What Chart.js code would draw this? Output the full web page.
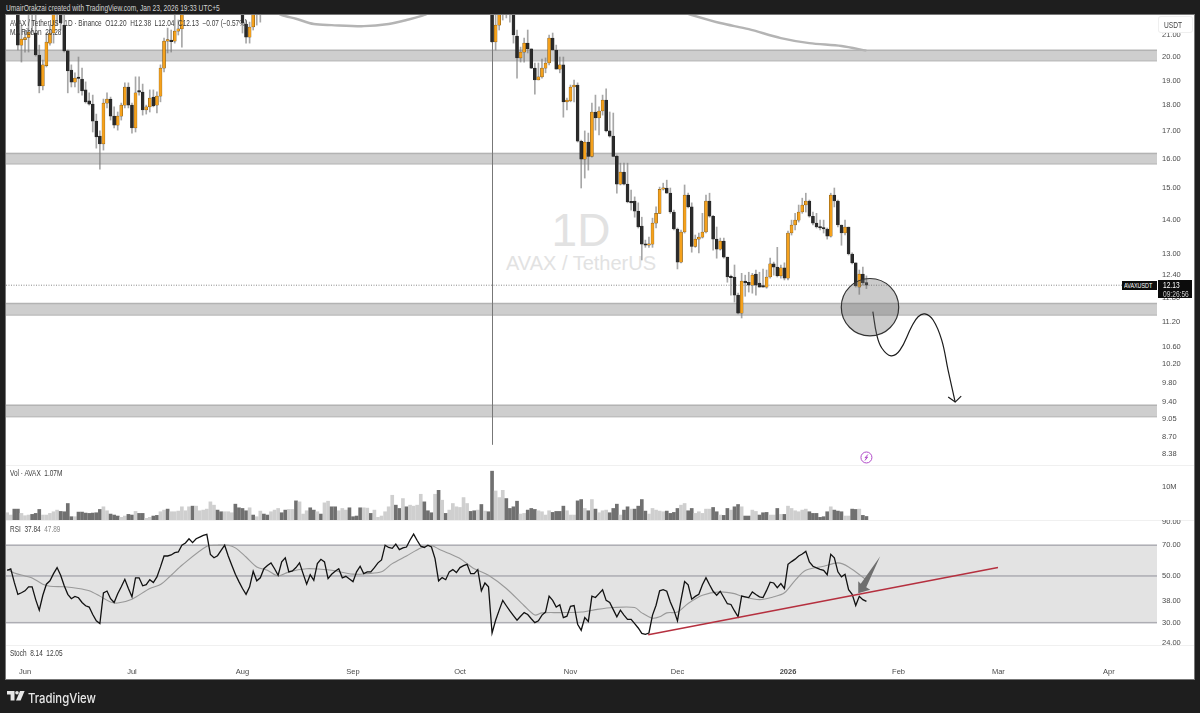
<!DOCTYPE html>
<html>
<head>
<meta charset="utf-8">
<title>AVAX / TetherUS</title>
<script src="https://cdn.jsdelivr.net/npm/chart.js@4/dist/chart.umd.min.js"></script>
<style>
  html, body { margin: 0; padding: 0; width: 1200px; height: 713px; overflow: hidden; background: #1e1e1e; }
  body { position: relative; font-family: "Liberation Sans", sans-serif; }
  canvas { position: absolute; left: 6px; }
  .abs { position: absolute; white-space: nowrap; line-height: 1; }
  .narrow { transform: scaleX(0.78); transform-origin: left center; }
  #sheet { position: absolute; left: 6px; top: 15px; width: 1188px; height: 664px; background: #fff; box-shadow: 0 0 0 1px #777; }
  .sep { position: absolute; left: 6px; width: 1188px; height: 1px; background: #f0f0f0; }
  .leg { font-size: 8.3px; color: #3a3a3a; }
</style>
</head>
<body>
<div id="sheet"></div>
<div class="sep" style="top:465px"></div>
<div class="sep" style="top:520px"></div>
<div class="sep" style="top:645px"></div>
<div class="abs" style="left:506px;top:203px;width:150px;text-align:center;font:46px 'Liberation Sans',sans-serif;color:#e2e2e2">1D</div>
<div class="abs" style="left:481px;top:252px;width:200px;text-align:center;font:20px 'Liberation Sans',sans-serif;color:#e2e2e2">AVAX / TetherUS</div>
<canvas id="priceChart" width="1188" height="450" style="top:15px"></canvas>
<canvas id="volChart" width="1188" height="55" style="top:465px"></canvas>
<canvas id="rsiChart" width="1188" height="159" style="top:520px"></canvas>

<div class="abs narrow" style="left:6px;top:4px;font-size:8.5px;color:#d4d4d4">UmairOrakzai created with TradingView.com, Jan 23, 2026 19:33 UTC+5</div>
<div class="abs leg narrow" style="left:10px;top:19px">AVAX / TetherUS · 1D · Binance &nbsp;O12.20 &nbsp;H12.38 &nbsp;L12.04 &nbsp;C12.13 &nbsp;−0.07 (−0.57%)</div>
<div class="abs leg narrow" style="left:10px;top:28px">MA Ribbon &nbsp;20.28</div>
<div class="abs leg narrow" style="left:10px;top:469px">Vol · AVAX &nbsp;1.07M</div>
<div class="abs leg narrow" style="left:10px;top:525px">RSI &nbsp;37.84 &nbsp;<span style="color:#888">47.89</span></div>
<div class="abs leg narrow" style="left:10px;top:649px">Stoch &nbsp;8.14 &nbsp;12.05</div>

<div class="abs" style="left:1159px;top:17px;width:33px;height:15px;background:#fff;border-radius:2px;box-shadow:0 0 0 1px #efefef"></div>
<div class="abs narrow" style="left:1164px;top:21px;font-size:8.5px;color:#444">USDT</div>
<div class="abs" style="left:1122px;top:281px;width:35px;height:9px;background:#0c0c0c"></div>
<div class="abs" style="left:1124px;top:282px;color:#fff;font-size:7.5px;transform:scaleX(0.72);transform-origin:left center">AVAXUSDT</div>
<div class="abs" style="left:1158px;top:280px;width:34px;height:18px;background:#0c0c0c"></div>
<div class="abs narrow" style="left:1163px;top:281px;color:#fff;font-size:8.5px;line-height:8.5px">12.13<br><span style="color:#ccc">09:26:56</span></div>

<svg class="abs" style="left:7px;top:691px" width="18" height="11" viewBox="0 0 18 11">
  <path fill="#e8e8e8" d="M0 0h7.5v9.5H3.6V3.4H0z"/><circle fill="#e8e8e8" cx="10" cy="1.8" r="1.8"/><path fill="#e8e8e8" d="M13 0h4.6l-4 9.5H9z"/>
</svg>
<div class="abs" style="left:28px;top:690px;font:500 13px Inter,sans-serif;color:#e8e8e8;transform:scaleX(0.87);transform-origin:left center">TradingView</div>

<script>
// days are counted from 1 Jun 2025, first candle is day -5
const firstDay = -5;

const opens = [
  null,null,null,22.3,20.53,20.78,20.88,22.2,21.08,20.09,
  18.77,19.62,20.62,21.08,22.1,22.5,21.45,20.27,19.44,18.93,
  19.12,19.06,18.61,18.17,18.04,17.38,16.82,16.53,18.08,18.24,
  17.57,17.23,17.57,18.00,18.73,18.00,17.12,18.55,18.52,17.81,
  17.93,18.32,18.00,18.36,19.52,20.71,20.71,20.71,21.17,21.27,
  null,null,null,null,null,null,null,null,null,null,
  null,null,null,null,null,null,22.6,21.50,20.89,21.36,
  22.3,22.4,null,null,null,null,null,null,null,null,
  null,null,null,null,null,null,null,null,null,null,
  null,null,null,null,null,null,null,null,null,null,
  null,null,null,null,null,null,null,null,null,null,
  null,null,null,null,null,null,null,null,null,null,
  null,null,null,null,null,null,null,null,null,null,
  null,null,null,null,null,null,23.0,20.67,21.45,22.2,
  22.2,22.3,22.1,20.94,19.96,20.22,20.62,20.36,19.52,19.02,
  19.15,19.52,19.74,20.85,20.31,19.48,19.66,18.13,18.17,18.73,
  18.81,16.63,15.99,16.60,16.09,17.73,17.50,17.77,18.20,17.01,
  16.82,16.09,15.14,15.54,15.14,14.56,14.59,14.27,13.81,13.27,
  13.24,13.27,13.90,14.20,14.97,15.01,14.84,14.24,13.72,12.76,
  13.63,14.78,14.40,13.21,13.42,13.48,13.63,14.59,14.11,13.42,
  13.13,13.36,12.90,12.35,12.35,11.87,11.41,12.24,12.21,12.13,
  12.43,12.19,12.11,12.08,12.35,12.71,12.62,12.38,12.60,12.32,
  13.60,13.84,13.99,14.24,14.46,14.59,14.11,13.90,13.78,13.75,
  13.72,13.51,14.78,14.59,13.84,13.60,13.78,12.99,12.74,12.08,
  12.43,12.20
];
const highs = [
  null,null,null,22.6,21.45,21.22,22.1,22.7,22.1,20.53,
  19.87,21.08,21.45,22.3,22.6,22.7,22.0,20.31,19.66,19.32,
  20.00,19.52,18.94,18.49,18.40,17.65,17.01,18.24,18.49,18.32,
  17.93,17.73,18.08,18.90,18.90,18.08,19.15,19.15,18.85,18.00,
  18.61,18.61,18.53,19.66,20.85,21.31,21.22,22.0,21.69,22.5,
  null,null,null,null,null,null,null,null,null,null,
  null,null,null,null,null,null,22.8,21.69,21.59,22.4,
  22.7,22.8,null,null,null,null,null,null,null,null,
  null,null,null,null,null,null,null,null,null,null,
  null,null,null,null,null,null,null,null,null,null,
  null,null,null,null,null,null,null,null,null,null,
  null,null,null,null,null,null,null,null,null,null,
  null,null,null,null,null,null,null,null,null,null,
  null,null,null,null,null,null,23.2,22.0,22.4,22.6,
  22.7,22.6,22.3,21.22,20.44,20.85,21.22,20.36,19.74,19.74,
  19.91,19.96,20.99,21.08,20.53,20.00,20.00,18.28,18.81,19.02,
  18.90,16.67,17.01,16.93,18.08,18.40,17.93,18.40,18.65,17.73,
  17.69,16.13,15.85,15.85,15.85,14.94,14.72,14.53,14.08,13.39,
  13.48,14.05,14.40,15.04,15.17,15.27,15.01,14.30,13.75,13.69,
  15.11,14.84,14.53,13.54,13.60,14.20,14.78,14.84,14.14,13.78,
  13.45,13.45,12.90,12.40,12.68,11.92,12.45,12.40,12.48,12.45,
  12.54,12.48,12.57,12.54,12.87,12.76,13.18,12.68,12.74,13.66,
  13.99,14.20,14.46,14.68,14.84,14.62,14.24,14.20,13.99,13.99,
  13.75,14.84,15.01,14.62,13.84,13.99,13.78,13.02,12.74,12.54,
  12.62,12.38
];
const lows = [
  null,null,null,20.31,19.78,20.22,20.22,21.12,20.04,18.49,
  18.61,19.57,20.53,20.62,21.45,21.22,20.22,18.49,18.73,18.73,
  18.49,18.40,18.08,18.00,16.97,16.38,15.64,16.31,17.89,17.42,
  17.12,17.04,17.42,17.89,17.89,16.93,16.97,18.40,17.61,17.65,
  17.73,17.93,17.69,18.13,19.36,20.18,20.22,20.62,20.99,20.44,
  null,null,null,null,null,null,null,null,null,null,
  null,null,null,null,null,null,21.08,20.62,20.62,21.22,
  21.45,21.59,null,null,null,null,null,null,null,null,
  null,null,null,null,null,null,null,null,null,null,
  null,null,null,null,null,null,null,null,null,null,
  null,null,null,null,null,null,null,null,null,null,
  null,null,null,null,null,null,null,null,null,null,
  null,null,null,null,null,null,null,null,null,null,
  null,null,null,null,null,null,20.65,20.31,21.22,21.69,
  21.79,21.59,20.62,19.10,19.78,19.78,20.18,19.50,18.44,19.02,
  19.10,19.32,19.66,20.31,19.48,19.32,17.53,17.81,18.13,18.13,
  16.60,15.01,15.34,15.61,16.06,17.04,16.86,17.61,16.97,16.78,
  16.09,14.84,15.11,15.11,14.53,14.30,14.08,13.75,12.82,13.18,
  13.18,13.18,13.75,14.20,14.94,14.84,14.20,13.69,12.57,12.74,
  13.60,14.37,13.04,13.18,13.02,13.45,13.60,14.08,13.10,12.87,
  13.10,12.87,12.21,11.87,11.69,11.39,11.29,11.84,11.95,11.92,
  11.87,12.08,12.08,12.05,12.32,12.40,12.35,12.32,12.27,12.27,
  13.54,13.69,13.93,14.20,14.24,14.08,13.84,13.75,13.69,13.60,
  13.42,13.48,14.40,13.78,13.24,13.54,12.96,12.71,12.08,11.89,
  12.13,12.04
];
const closes = [
  null,null,null,20.53,20.80,20.87,21.12,22.5,20.09,18.77,
  19.66,20.67,21.08,22.0,22.3,21.55,20.27,19.40,18.93,19.10,
  19.08,18.57,18.13,18.04,17.38,16.79,16.53,18.08,18.24,17.57,
  17.23,17.57,18.00,18.73,18.00,17.12,18.49,18.52,17.81,17.93,
  18.28,17.97,18.36,19.52,20.71,20.73,20.69,21.17,21.27,22.1,
  null,null,null,null,null,null,null,null,null,null,
  null,null,null,null,null,null,21.55,20.89,21.36,22.1,
  22.5,22.6,null,null,null,null,null,null,null,null,
  null,null,null,null,null,null,null,null,null,null,
  null,null,null,null,null,null,null,null,null,null,
  null,null,null,null,null,null,null,null,null,null,
  null,null,null,null,null,null,null,null,null,null,
  null,null,null,null,null,null,null,null,null,null,
  null,null,null,null,null,null,20.67,21.45,22.1,22.4,
  22.5,22.5,20.99,19.96,20.22,20.62,20.36,19.52,19.02,19.15,
  19.52,19.74,20.85,20.31,19.48,19.66,18.13,18.20,18.73,18.81,
  16.63,15.99,16.60,16.09,17.73,17.50,17.77,18.20,17.01,16.82,
  16.09,15.14,15.54,15.14,14.56,14.53,14.27,13.78,13.27,13.24,
  13.27,13.90,14.20,14.97,15.01,14.84,14.24,13.72,12.76,13.63,
  14.78,14.40,13.21,13.42,13.48,13.63,14.59,14.11,13.42,13.13,
  13.36,12.90,12.35,12.33,11.87,11.41,12.24,12.19,12.13,12.40,
  12.13,12.08,12.08,12.35,12.71,12.62,12.38,12.60,12.32,13.60,
  13.84,13.99,14.24,14.46,14.59,14.11,13.90,13.78,13.75,13.72,
  13.51,14.78,14.59,13.84,13.60,13.78,12.99,12.74,12.11,12.43,
  12.19,12.13
];

// volume in millions
const volumes = [
  2.2,1.5,3.3,3.3,2.0,1.3,1.5,1.7,2.0,3.2,
  1.5,1.5,2.0,2.5,3.0,2.6,2.5,5.0,1.0,1.0,
  2.4,2.4,2.1,2.0,2.1,2.2,3.2,4.0,2.8,1.8,
  1.5,1.2,0.8,1.2,1.7,1.5,2.6,2.0,2.0,0.5,
  0.8,1.2,1.4,2.5,3.0,3.3,2.5,2.5,2.7,4.0,
  2.8,4.0,4.2,4.2,2.8,3.0,3.3,5.5,4.5,3.0,
  2.5,2.5,2.5,2.2,4.8,3.7,3.5,2.8,3.7,1.5,
  1.0,2.7,1.8,1.5,2.5,3.0,3.5,2.2,3.0,3.2,
  3.2,5.8,5.5,1.8,2.8,3.7,3.0,2.5,1.8,5.2,
  5.7,4.0,4.0,2.8,3.5,3.0,3.7,1.0,1.2,3.7,
  3.7,3.6,2.0,3.0,0.8,1.2,2.5,4.0,7.5,4.5,
  3.5,6.5,4.0,4.5,4.2,4.5,7.8,5.5,2.8,2.2,
  7.8,9.0,6.0,2.0,3.0,5.0,4.0,3.8,6.8,5.0,
  2.6,2.8,3.0,4.7,2.7,2.5,14.8,8.8,6.8,9.0,
  6.5,3.5,4.0,5.7,1.8,2.0,3.0,3.5,3.2,2.8,
  2.5,1.5,2.8,2.3,2.6,2.6,4.2,2.8,1.5,1.5,
  5.8,6.2,3.5,2.8,6.2,3.3,2.2,2.8,3.0,2.2,
  3.5,4.8,1.5,3.0,4.0,3.3,3.3,4.2,6.2,2.7,
  1.8,3.5,3.0,2.7,2.5,2.7,2.0,2.3,3.5,4.5,
  5.0,2.8,3.5,2.0,2.5,2.0,3.3,3.3,3.8,2.5,
  1.5,1.4,3.5,3.0,4.0,4.7,4.0,1.2,1.2,3.0,
  2.6,1.5,2.2,2.3,1.5,1.5,3.5,1.7,1.7,4.2,
  3.5,2.8,2.5,3.0,3.3,2.5,2.0,2.0,0.8,1.0,
  2.5,4.0,3.0,2.7,2.5,1.2,1.2,3.3,3.2,3.3,
  1.4,1.07
];
// D = down day (dark bar), L = up day (light bar)
const volumeSides = [
  "LLDDLLLDDD","LLLLLDDDDL","DDDDDDDLLD","DDLLDDLDDL","LDDLLDLLLL",
  "LLDLLLLLLD","DLLLDDDDLD","LLDDLLLDDL","LDLLLDDLDL","LDDLLLDDDD",
  "LLDLLLLLLD","DLDLLLLDDD","LDLDLLLLLL","DDLDLDDLLL","DDDDLLDDDL",
  "LLLDDDDLLL","DDLDLDLLLD","DDLDDLDDDD","LLLLLDDDDL","LDDLLLLLDD",
  "LDDLDDLDDL","LDDDLLDLDL","LLLLLDDDDD","DLDDDLLDDL","DD"
];

const rsiValues = [
  53.2,54,46.6,40.9,41.6,42.5,44.4,44.4,38.6,34.4,
  40.5,45.7,47.4,51.3,54.8,50.4,44.9,40.9,39,40,
  39.4,37.4,36.1,35.6,32.8,30.6,29.7,41.5,42.4,39,
  37.4,41.2,44.4,48.2,43.6,39.8,49,49,44.9,45.5,
  48,46.5,49.5,55.2,62.2,62.2,62.9,64.5,65,70,
  71.7,75.1,72,75.1,76.5,77.9,78.8,63.2,61,62.4,
  66.1,70,62.2,56.2,50.9,47,43.6,40.9,44.4,52.6,
  47.4,49,54.1,56,57.7,54.1,50.4,58.3,61,52.3,
  52.8,54.8,57.7,51.3,45.7,50.7,47.7,57.2,60,58.3,
  48.6,50.9,52.6,54.1,49,49.8,48.4,47,52.3,55.6,
  51.3,52.3,52.3,54.8,57.7,59.6,70,68.3,67.6,70.8,
  66.7,67.9,68.6,74.1,79,73.7,69.2,68.3,70,68.6,
  60.5,47.4,49.1,48,52.3,53.6,51.9,54.8,56,56.8,
  51.3,51.3,53.6,42.5,46.3,44.4,26.8,30.8,34.4,38.3,
  36.1,34.1,32.4,30.8,32.2,33.5,32.8,31.3,30,30.6,
  32.6,33.7,40.1,38.3,35.6,36.5,31.7,32.2,35.9,36.2,
  29.5,27.6,31.7,30.4,40.1,39.5,41.2,43,38.3,37.4,
  34.6,32,34.4,32.6,31.1,31.1,29.7,28.3,26.7,26.4,
  26.8,32.6,36.3,42.5,43,42.3,37.6,34.4,30.6,38.5,
  47,45.4,38.8,40,40.9,45.4,49.1,45.4,42.3,40.5,
  42.3,39.5,36.9,36.6,34.1,32,40.1,39.8,39.5,42,
  40.8,39.8,39.5,42.7,46.7,46.3,44,46,43.6,56.8,
  58.5,60.1,62.2,63.6,65.4,58.3,55.6,54.6,53.8,53.2,
  50.7,63.4,61,52.3,49.5,50.9,43,40.9,36.2,40,
  38.6,37.84
];

// RSI average, read at the bends of the curve
const rsiMaDays = [-5,-3,0,2,5,7,11,15,18,21,24,26,30,35,38,41,44,51,54,57,59,62,65,68,71,74,79,83,86,92,96,100,103,107,111,114,116,119,122,126,130,135,140,143,145,150,156,160,165,171,173,176,178,180,183,186,190,195,199,201,206,210,213,216,219,224,228,231,236];
const rsiMaValues = [53.8,51.6,50,48.9,45.7,44.7,44.4,43.6,42.5,40.1,37.6,37.2,38.8,43.6,45.5,50.4,56.2,69.2,70,70,68,61.5,55.2,53.2,50,52.3,54.1,53.8,53.2,51,51.3,52.3,57.2,62.2,67.9,69.7,67.2,63.9,60.5,54.1,50.4,43.6,36.1,32.6,33.4,33.5,33.7,34.6,35.4,35.4,33.4,31.5,32,33.4,33.7,37,40.5,42,41.2,40.1,38.6,39.8,41.6,47.7,53.2,55.6,57.7,55.2,47.89];

// thick ribbon line, only partly on screen
const ribbonDays = [70,72,76,81,86,95,102,107,112,115,150,184,187,195,203,212,220,229,236];
const ribbonValues = [22.1,21.93,21.75,21.5,21.45,21.4,21.5,21.69,21.93,22.2,null,22.1,21.93,21.55,21.26,20.85,20.62,20.49,20.28];

// grey zones drawn on the chart
const zoneTops = [20.31,16.2,11.66,9.33];
const zoneBottoms = [19.83,15.82,11.36,9.09];

// the hand drawn arrow
const arrowDays = [237.8,238.9,240.3,242.9,245.4,248.7,250.5,252.4,254.7,257.1,258.9,260.9];
const arrowPrices = [11.45,10.88,10.57,10.39,10.52,11.08,11.32,11.39,11.24,10.76,10.07,9.39];

const trendDays = [174.8,272.9];
const trendValues = [26.3,54.8];

const priceTicks = [21,20,19,18,17,16,15,14,13,12.4,11.8,11.2,10.6,10.2,9.8,9.4,9.05,8.7,8.38];
const volTicks = [10];
const rsiTicks = [90,70,50,38,30,24];
const monthDays = [0,30,61,92,122,153,183,214,245,273,304];
const monthLabels = ['Jun','Jul','Aug','Sep','Oct','Nov','Dec','2026','Feb','Mar','Apr'];

const dayMin = -5.33, dayMax = 317.5;
const tickFont = { family: '"Liberation Sans", sans-serif', size: 7.5 };
const tickColor = '#4a4a4a';

const days = opens.map((_, i) => i + firstDay);
const sides = volumeSides.join('');

// the tick labels must not push the plot area inwards
function noPadding(s) {
    s.paddingLeft = 0; s.paddingRight = 0; s.paddingTop = 0; s.paddingBottom = 0;
}

const baseOptions = () => ({
    responsive: false,
    animation: false,
    events: [],
    layout: { padding: 0, autoPadding: false },
    plugins: { legend: { display: false }, tooltip: { enabled: false } },
    scales: {
        x: { type: 'linear', display: false, offset: false, min: dayMin, max: dayMax, grid: { display: false } }
    }
});

function rightAxis(type, min, max, tickList, format) {
    return {
        type, position: 'right', min, max,
        grid: { display: false, drawTicks: false },
        border: { display: false },
        afterFit: s => { s.width = 37; noPadding(s); },
        afterBuildTicks: s => { s.ticks = tickList.map(v => ({ value: v })); },
        ticks: { autoSkip: false, padding: 5, color: tickColor, font: tickFont, crossAlign: 'near', callback: format }
    };
}

// candles: wick and body are two floating bars on the same day
const shown = days.map((d, i) => i).filter(i => opens[i] !== null);
const wickData = shown.map(i => ({ x: days[i], y: [lows[i], highs[i]] }));
const bodyData = shown.map(i => ({ x: days[i], y: [opens[i], closes[i]] }));
const bodyColors = shown.map(i => closes[i] >= opens[i] ? '#f5a11c' : '#2a2a2a');
const bodyEdges = shown.map(i => closes[i] >= opens[i] ? '#6b4a10' : '#222222');

const priceDrawings = {
    id: 'priceDrawings',
    beforeDatasetsDraw(chart) {
        const { ctx, chartArea: a, scales: { x, y } } = chart;
        ctx.save();
        zoneTops.forEach((top, i) => {
            const y1 = y.getPixelForValue(top), y2 = y.getPixelForValue(zoneBottoms[i]);
            ctx.fillStyle = '#cecece';
            ctx.fillRect(a.left, y1, a.right - a.left, y2 - y1);
            ctx.fillStyle = '#b3b3b3';
            ctx.fillRect(a.left, y1 - 0.5, a.right - a.left, 1.5);
            ctx.fillRect(a.left, y2 - 0.5, a.right - a.left, 1);
        });
        // vertical marker on 10 Oct
        ctx.strokeStyle = '#777';
        ctx.lineWidth = 1;
        const vx = Math.round(x.getPixelForValue(131)) + 0.5;
        ctx.beginPath();
        ctx.moveTo(vx, a.top);
        ctx.lineTo(vx, y.getPixelForValue(8.55));
        ctx.stroke();
        // last price line
        const ly = y.getPixelForValue(closes[closes.length - 1]);
        ctx.strokeStyle = '#8a8a8a';
        ctx.setLineDash([1, 1.5]);
        ctx.beginPath();
        ctx.moveTo(a.left, ly);
        ctx.lineTo(a.right - 35, ly);
        ctx.stroke();
        ctx.restore();
    },
    afterDatasetsDraw(chart) {
        const { ctx, scales: { x, y } } = chart;
        ctx.save();
        // circle around the support zone
        ctx.beginPath();
        ctx.arc(x.getPixelForValue(237), y.getPixelForValue(11.56), 28.7, 0, Math.PI * 2);
        ctx.fillStyle = 'rgba(110,110,110,0.36)';
        ctx.fill();
        ctx.strokeStyle = '#333';
        ctx.lineWidth = 1.2;
        ctx.stroke();
        // arrow head
        const tx = x.getPixelForValue(arrowDays[arrowDays.length - 1]);
        const ty = y.getPixelForValue(arrowPrices[arrowPrices.length - 1]);
        ctx.strokeStyle = '#1c1c1c';
        ctx.beginPath();
        ctx.moveTo(tx - 7, ty - 5);
        ctx.lineTo(tx, ty);
        ctx.lineTo(tx + 6, ty - 6);
        ctx.stroke();
        // purple flash icon
        const ix = x.getPixelForValue(236), iy = y.getPixelForValue(8.38) + 3.5;
        ctx.strokeStyle = '#b04ac8';
        ctx.lineWidth = 1;
        ctx.beginPath();
        ctx.arc(ix, iy, 5.5, 0, Math.PI * 2);
        ctx.stroke();
        ctx.beginPath();
        ctx.moveTo(ix + 1.5, iy - 3);
        ctx.lineTo(ix - 1.5, iy + 0.5);
        ctx.lineTo(ix + 1.2, iy - 0.5);
        ctx.lineTo(ix - 1.5, iy + 3);
        ctx.stroke();
        ctx.restore();
    }
};

const priceOptions = baseOptions();
priceOptions.scales.y = rightAxis('logarithmic', 8.18, 21.93, priceTicks, v => Number(v).toFixed(2));

new Chart(document.getElementById('priceChart'), {
    type: 'bar',
    data: {
        datasets: [
            { type: 'line', data: arrowDays.map((d, i) => ({ x: d, y: arrowPrices[i] })), borderColor: '#1c1c1c', borderWidth: 1.2, pointRadius: 0, tension: 0.4, order: 0 },
            { data: bodyData, backgroundColor: bodyColors, borderColor: bodyEdges, borderWidth: 0.5, borderSkipped: false, barThickness: 3, minBarLength: 1.5, grouped: false, order: 1 },
            { data: wickData, backgroundColor: 'rgba(120,120,120,0.65)', barThickness: 1, grouped: false, order: 2 },
            { type: 'line', data: ribbonDays.map((d, i) => ({ x: d, y: ribbonValues[i] })), borderColor: '#b4b4b4', borderWidth: 2.4, pointRadius: 0, tension: 0.3, spanGaps: false, order: 3 }
        ]
    },
    options: priceOptions,
    plugins: [priceDrawings]
});

const volOptions = baseOptions();
volOptions.scales.y = rightAxis('linear', 0, 16.67, volTicks, v => v + 'M');

new Chart(document.getElementById('volChart'), {
    type: 'bar',
    data: {
        datasets: [{
            data: volumes.map((v, i) => ({ x: days[i], y: v })),
            backgroundColor: volumes.map((_, i) => sides[i] === 'D' ? '#707070' : '#cfcfcf'),
            barThickness: 3
        }]
    },
    options: volOptions
});

const rsiDrawings = {
    id: 'rsiDrawings',
    beforeDatasetsDraw(chart) {
        const { ctx, chartArea: a, scales: { y } } = chart;
        const y70 = y.getPixelForValue(70), y50 = y.getPixelForValue(50), y30 = y.getPixelForValue(30);
        ctx.save();
        ctx.fillStyle = '#e3e3e3';
        ctx.fillRect(a.left, y70, a.right - a.left, y30 - y70);
        ctx.fillStyle = '#adadb3';
        [y70, y50, y30].forEach(p => ctx.fillRect(a.left, p - 0.75, a.right - a.left, 1.5));
        ctx.restore();
    },
    afterDatasetsDraw(chart) {
        const { ctx, scales: { x, y } } = chart;
        // grey pointer at the trend line
        const tx = x.getPixelForValue(233.7), ty = y.getPixelForValue(41.4);
        ctx.save();
        ctx.fillStyle = '#6f6f6f';
        ctx.beginPath();
        ctx.moveTo(tx, ty);
        ctx.lineTo(tx, ty - 12);
        ctx.lineTo(tx + 2.5, ty - 9.5);
        ctx.lineTo(tx + 22, ty - 37);
        ctx.lineTo(tx + 8, ty - 6);
        ctx.lineTo(tx + 12, ty - 3.5);
        ctx.closePath();
        ctx.fill();
        ctx.restore();
    }
};

const rsiOptions = baseOptions();
rsiOptions.scales.x = {
    type: 'linear', min: dayMin, max: dayMax,
    grid: { display: false, drawTicks: false },
    border: { display: false },
    afterFit: s => { s.height = 34; noPadding(s); },
    afterBuildTicks: s => { s.ticks = monthDays.map(v => ({ value: v })); },
    ticks: {
        autoSkip: false, maxRotation: 0, padding: 22, color: tickColor,
        font: c => ({ ...tickFont, weight: c.tick && c.tick.value === 214 ? 'bold' : 'normal' }),
        callback: v => monthLabels[monthDays.indexOf(v)]
    }
};
rsiOptions.scales.y = rightAxis('logarithmic', 23.5, 92.2, rsiTicks, v => Number(v).toFixed(2));

new Chart(document.getElementById('rsiChart'), {
    type: 'line',
    data: {
        datasets: [
            { data: trendDays.map((d, i) => ({ x: d, y: trendValues[i] })), borderColor: '#b5303f', borderWidth: 1.5, pointRadius: 0, order: 0 },
            { data: rsiValues.map((v, i) => ({ x: days[i], y: v })), borderColor: '#111', borderWidth: 1.3, pointRadius: 0, tension: 0, order: 1 },
            { data: rsiMaDays.map((d, i) => ({ x: d, y: rsiMaValues[i] })), borderColor: '#999', borderWidth: 1.1, pointRadius: 0, tension: 0.3, order: 2 }
        ]
    },
    options: rsiOptions,
    plugins: [rsiDrawings]
});
</script>
</body>
</html>
